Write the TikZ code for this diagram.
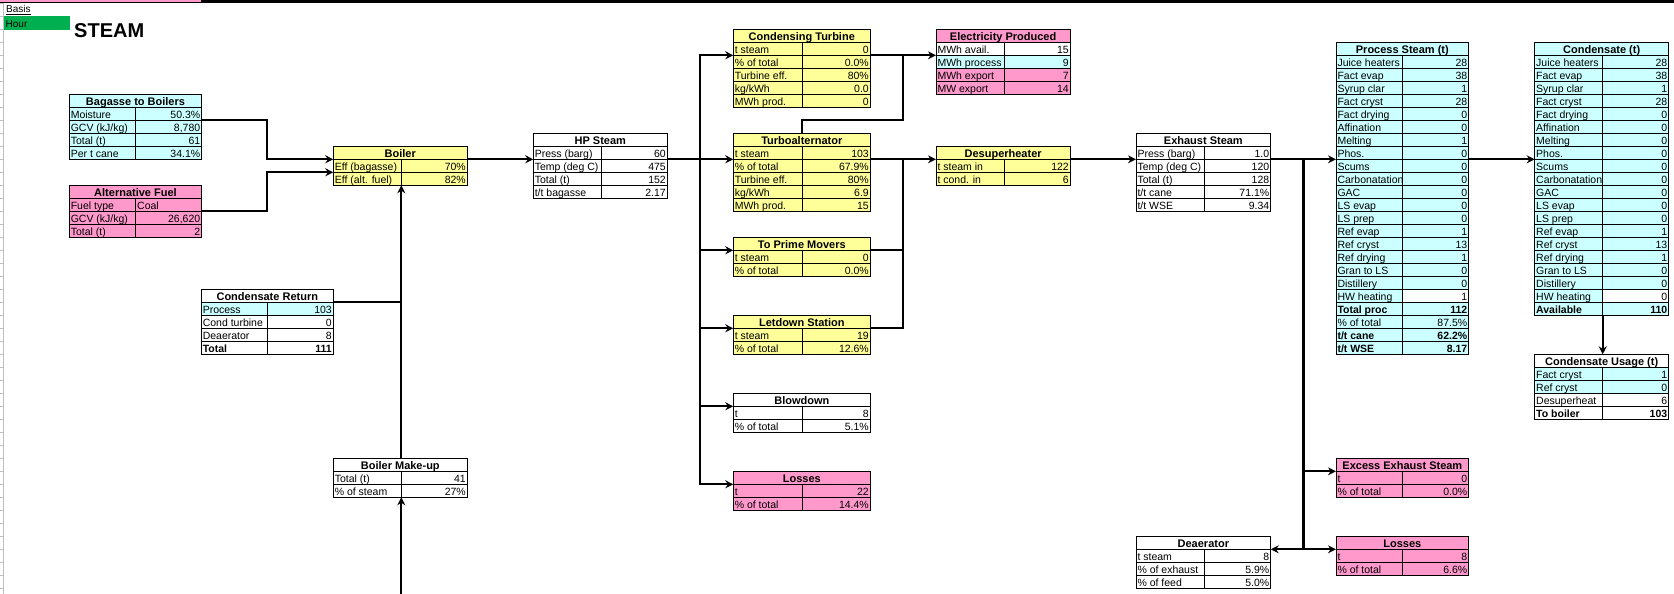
\documentclass[tikz,border=0pt]{standalone}
\usepackage{fontspec}
\newfontfamily\xlfont{Liberation Sans}
\usetikzlibrary{arrows.meta,calc}
\definecolor{cy}{HTML}{CCFFFF}
\definecolor{pk}{HTML}{FF99CC}
\definecolor{yl}{HTML}{FFFF99}
\definecolor{gr}{HTML}{00B050}
\colorlet{wh}{white}
\tikzset{>={Stealth[length=8pt,width=8pt]}}
\tikzset{
	cell/.style={draw, line width=0.9pt, inner xsep=1.5pt, inner ysep=0pt, outer sep=0pt,
			minimum height=13pt, text height=9.5pt, text depth=1pt, anchor=north west,
			font=\xlfont\fontsize{10.5}{12}\selectfont},
	nrm/.style={},
	bld/.style={font=\xlfont\fontsize{10.5}{12}\selectfont\bfseries},
	head/.style={cell, font=\xlfont\fontsize{11}{12}\selectfont\bfseries},
	flow/.style={line width=2.3pt, ->},
	pipe/.style={line width=2.3pt}
}
% one block of cells: name, left x, split x, right x, top y, title, title fill, rows
\newcommand\sheet[8]{%
	\pgfmathsetmacro\wa{#3-#2-3}%
	\pgfmathsetmacro\wb{#4-#3-3}%
	\pgfmathsetmacro\wt{#4-#2-3}%
	\node[head, fill=#7] (#1) at (#2,#5) {\makebox[\wt pt]{#6}};
	\foreach \lab/\val/\fa/\fb/\fw [count=\r] in {#8} {
			\node[cell, fill=\fa, \fw] (#1-\r-a) at (#2,#5+13*\r) {\makebox[\wa pt][l]{\lab}};
			\node[cell, fill=\fb, \fw] (#1-\r-b) at (#3,#5+13*\r) {\makebox[\wb pt][r]{\val}};
		}%
}

\begin{document}
\begin{tikzpicture}[x=1pt, y=-1pt]
	\useasboundingbox (0,0) rectangle (1674,594);
	% sheet edge
	\fill[pk] (0,0) rectangle (201.7,2.7);
	\draw[line width=0.8pt] (0,2.7) -- (201.7,2.7) -- (201.7,0);
	\fill (201.7,0) rectangle (1674,3.3);
	\draw[gray!50] (2.7,3.3) -- (2.7,594);
	\foreach \k in {0,...,45} \draw[gray!50] (0,3.3+13*\k) -- (2.7,3.3+13*\k);

	\node[anchor=base west, inner sep=0, font=\xlfont\fontsize{10}{12}\selectfont] (basis) at (6,13) {\underline{Basis}};
	\node[fill=gr, anchor=north west, inner xsep=1.5pt, inner ysep=0pt, minimum height=14pt, text height=9.5pt, text depth=1pt,
		font=\xlfont\fontsize{10}{12}\selectfont] (hour) at (4,16) {\makebox[63pt][l]{Hour}};
	\node[anchor=base west, inner sep=0, font=\xlfont\fontsize{20}{24}\selectfont\bfseries] (steam) at (74,38) {STEAM};

	% fuel side
	\sheet{bag}{69.3}{135.7}{201.7}{94.3}{Bagasse to Boilers}{cy}{
		Moisture/50.3\%/cy/cy/nrm, {GCV (kJ/kg)}/{8,780}/cy/cy/nrm, Total (t)/61/cy/cy/nrm, Per t cane/34.1\%/cy/cy/nrm}
	\sheet{alt}{69.3}{135.7}{201.7}{185.3}{Alternative Fuel}{pk}{
		Fuel type/Coal\hfill/pk/pk/nrm, {GCV (kJ/kg)}/{26,620}/pk/pk/nrm, Total (t)/2/pk/pk/nrm}
	\sheet{boil}{333.3}{401.3}{467.3}{146.3}{Boiler}{yl}{
		Eff (bagasse)/70\%/yl/yl/nrm, Eff (alt. fuel)/82\%/yl/yl/nrm}
	\sheet{cr}{201.3}{267.3}{333.3}{289.3}{Condensate Return}{wh}{
		Process/103/cy/cy/nrm, Cond turbine/0/wh/wh/nrm, Deaerator/8/wh/wh/nrm, Total/111/wh/wh/bld}
	\sheet{mk}{333.3}{401.3}{467.3}{458.3}{Boiler Make-up}{wh}{
		Total (t)/41/wh/wh/nrm, \% of steam/27\%/wh/wh/nrm}

	% high pressure side
	\sheet{hp}{533.3}{601.3}{667.3}{133.3}{HP Steam}{wh}{
		Press (barg)/60/wh/wh/nrm, Temp (deg C)/475/wh/wh/nrm, Total (t)/152/wh/wh/nrm, {t/t bagasse}/2.17/wh/wh/nrm}
	\sheet{ct}{733.3}{802.7}{870.3}{29.3}{Condensing Turbine}{yl}{
		t steam/0/yl/yl/nrm, \% of total/0.0\%/yl/yl/nrm, Turbine eff./80\%/yl/yl/nrm,
		{kg/kWh}/0.0/yl/yl/nrm, MWh prod./0/yl/yl/nrm}
	\sheet{ta}{733.3}{802.7}{870.3}{133.3}{Turboalternator}{yl}{
		t steam/103/yl/yl/nrm, \% of total/67.9\%/yl/yl/nrm, Turbine eff./80\%/yl/yl/nrm,
		{kg/kWh}/6.9/yl/yl/nrm, MWh prod./15/yl/yl/nrm}
	\sheet{pm}{733.3}{802.7}{870.3}{237.3}{To Prime Movers}{yl}{
		t steam/0/yl/yl/nrm, \% of total/0.0\%/yl/yl/nrm}
	\sheet{ld}{733.3}{802.7}{870.3}{315.3}{Letdown Station}{yl}{
		t steam/19/yl/yl/nrm, \% of total/12.6\%/yl/yl/nrm}
	\sheet{bd}{733.3}{802.7}{870.3}{393.3}{Blowdown}{wh}{
		t/8/wh/wh/nrm, \% of total/5.1\%/wh/wh/nrm}
	\sheet{ls}{733.3}{802.7}{870.3}{471.3}{Losses}{pk}{
		t/22/pk/pk/nrm, \% of total/14.4\%/pk/pk/nrm}
	\sheet{el}{936}{1004.7}{1070.3}{29.3}{Electricity Produced}{pk}{
		MWh avail./15/wh/wh/nrm, MWh process/9/cy/cy/nrm, MWh export/7/pk/pk/nrm, MW export/14/pk/pk/nrm}
	\sheet{ds}{936}{1004.7}{1070.3}{146.3}{Desuperheater}{yl}{
		t steam in/122/yl/yl/nrm, t cond. in/6/yl/yl/nrm}

	% exhaust side
	\sheet{ex}{1136}{1204.3}{1270.7}{133.3}{Exhaust Steam}{wh}{
		Press (barg)/1.0/wh/wh/nrm, Temp (deg C)/120/wh/wh/nrm, Total (t)/128/wh/wh/nrm,
		{t/t cane}/71.1\%/wh/wh/nrm, {t/t WSE}/9.34/wh/wh/nrm}
	\sheet{ps}{1336}{1402.7}{1468.7}{42.3}{Process Steam (t)}{cy}{
		Juice heaters/28/cy/cy/nrm, Fact evap/38/cy/cy/nrm, Syrup clar/1/cy/cy/nrm, Fact cryst/28/cy/cy/nrm,
		Fact drying/0/cy/cy/nrm, Affination/0/cy/cy/nrm, Melting/1/cy/cy/nrm, Phos./0/cy/cy/nrm,
		Scums/0/cy/cy/nrm, Carbonatation/0/cy/cy/nrm, GAC/0/cy/cy/nrm, LS evap/0/cy/cy/nrm,
		LS prep/0/cy/cy/nrm, Ref evap/1/cy/cy/nrm, Ref cryst/13/cy/cy/nrm, Ref drying/1/cy/cy/nrm,
		Gran to LS/0/cy/cy/nrm, Distillery/0/cy/cy/nrm, HW heating/1/cy/wh/nrm,
		Total proc/112/cy/cy/bld, \% of total/87.5\%/cy/cy/nrm, {t/t cane}/62.2\%/cy/cy/bld, {t/t WSE}/8.17/cy/cy/bld}
	\sheet{cd}{1534.7}{1602.7}{1668.7}{42.3}{Condensate (t)}{cy}{
		Juice heaters/28/cy/cy/nrm, Fact evap/38/cy/cy/nrm, Syrup clar/1/cy/cy/nrm, Fact cryst/28/cy/cy/nrm,
		Fact drying/0/cy/cy/nrm, Affination/0/cy/cy/nrm, Melting/0/cy/cy/nrm, Phos./0/cy/cy/nrm,
		Scums/0/cy/cy/nrm, Carbonatation/0/cy/cy/nrm, GAC/0/cy/cy/nrm, LS evap/0/cy/cy/nrm,
		LS prep/0/cy/cy/nrm, Ref evap/1/cy/cy/nrm, Ref cryst/13/cy/cy/nrm, Ref drying/1/cy/cy/nrm,
		Gran to LS/0/cy/cy/nrm, Distillery/0/cy/cy/nrm, HW heating/0/cy/wh/nrm, Available/110/cy/cy/bld}
	\sheet{cu}{1534.7}{1602.7}{1668.7}{354.3}{Condensate Usage (t)}{wh}{
		Fact cryst/1/cy/cy/nrm, Ref cryst/0/cy/cy/nrm, Desuperheat/6/wh/wh/nrm, To boiler/103/wh/wh/bld}
	\sheet{xs}{1336}{1402.7}{1468.7}{458.3}{Excess Exhaust Steam}{pk}{
		t/0/pk/pk/nrm, \% of total/0.0\%/pk/pk/nrm}
	\sheet{lr}{1336}{1402.7}{1468.7}{536.3}{Losses}{pk}{
		t/8/pk/pk/nrm, \% of total/6.6\%/pk/pk/nrm}
	\sheet{de}{1136}{1204.3}{1270.7}{536.3}{Deaerator}{wh}{
		t steam/8/wh/wh/nrm, \% of exhaust/5.9\%/wh/wh/nrm, \% of feed/5.0\%/wh/wh/nrm}

	% connectors
	\coordinate (feed) at (401.3,594);
	\coordinate (hpbus) at ($(hp-1-b.south east)!0.5!(ta-1-a.south west)$);
	\coordinate (elj) at ($(ct-1-b.south east)!0.5!(el-1-a.south west)$);
	\coordinate (dsj) at ($(ta-1-b.south east)!0.5!(ds.south west)$);
	\coordinate (exj) at ($(ex-1-b.south east)!0.5!(ps-8-a.south west)$);

	\draw[flow] (bag-1-b.south east) -- ++(65,0) |- (boil.south west);
	\draw[flow] (alt-1-b.south east) -- ++(65,0) |- (boil-1-a.south west);
	\draw[flow] (feed) -- (mk-2-a.south east);
	\draw[flow] (mk.north -| boil-2-a.south east) -- (boil-2-a.south east);
	\draw[pipe] (cr.south east) -- (cr.south east -| boil-2-a.south east);
	\draw[flow] (boil.south east) -- (hp-1-a.south west);
	\draw[flow] (hp-1-b.south east) -- (ta-1-a.south west);
	\draw[flow] (hpbus) |- (ct-1-a.south west);
	\draw[flow] (hpbus) |- (pm.south west);
	\draw[flow] (hpbus) |- (ld.south west);
	\draw[flow] (hpbus) |- (bd.south west);
	\draw[flow] (hpbus) |- (ls.south west);
	\draw[flow] (ct-1-b.south east) -- (el-1-a.south west);
	\draw[pipe] (ta.north) -- ++(0,-13) -| (elj);
	\draw[flow] (ta-1-b.south east) -- (ds.south west);
	\draw[pipe] (pm.south east) -| (dsj);
	\draw[pipe] (ld.south east) -| (dsj);
	\draw[flow] (ds.south east) -- (ex-1-a.south west);
	\draw[flow] (ex-1-b.south east) -- (ps-8-a.south west);
	\draw[flow] (exj) |- (xs.south west);
	\draw[flow] (exj) |- (lr.south west);
	\draw[flow] (exj) |- (de.south east);
	\draw[flow] (ps-8-b.south east) -- (cd-8-a.south west);
	\draw[flow] (cd-20-a.south east) -- (cd-20-a.south east |- cu.north);
\end{tikzpicture}
\end{document}
